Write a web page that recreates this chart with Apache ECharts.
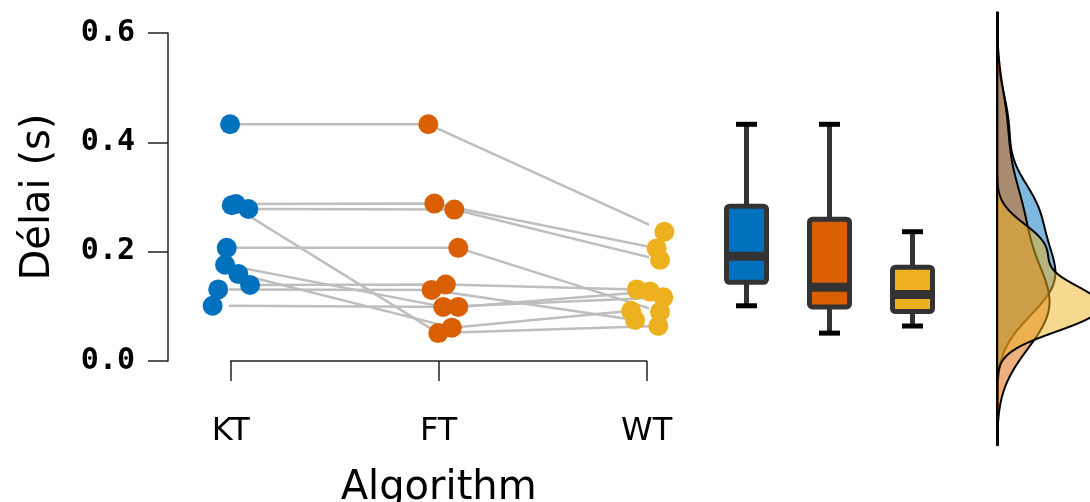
<!DOCTYPE html>
<html><head><meta charset="utf-8">
<script src="https://cdn.jsdelivr.net/npm/echarts@6/dist/echarts.min.js"></script>
<style>html,body{margin:0;padding:0;background:#fff}#c{width:1090px;height:502px}</style>
</head><body><div id="c"></div>
<script>
// ---------------- data ----------------
const categories = ['KT', 'FT', 'WT'];
const yTickLabels = ['0.0', '0.2', '0.4', '0.6'];
// paired values per subject (same index = same subject)
const ktValues = [0.433, 0.287, 0.278, 0.285, 0.207, 0.176, 0.159, 0.139, 0.131, 0.101];
const ftValues = [0.433, 0.288, 0.277, 0.051, 0.207, 0.099, 0.061, 0.140, 0.130, 0.099];
const wtValues = [0.2365, 0.206, 0.185, 0.064, 0.090, 0.1165, 0.092, 0.131, 0.075, 0.127];
// horizontal jitter of each point, in category units
const ktJitter = [-0.003, 0.025, 0.085, 0.005, -0.019, -0.027, 0.037, 0.093, -0.060, -0.087];
const ftJitter = [-0.050, -0.021, 0.075, -0.002, 0.094, 0.022, 0.063, 0.034, -0.034, 0.094];
const wtJitter = [0.085, 0.048, 0.064, 0.056, 0.064, 0.080, -0.075, -0.048, -0.056, 0.016];

// ---------------- style / layout ----------------
const colors = ['#0072BD', '#D95F02', '#EDB120'];
const lineGrey = '#BEBEBE';
const axisColor = '#222';
const plotTop = 33, plotBottom = 361;           // pixel span of 0 .. 0.6
const yMin = 0, yMax = 0.6;
const pxPerUnit = (plotBottom - plotTop) / (yMax - yMin);
const pxPerDensity = 15.6;
const densLeft = 997, densWidth = 220;

const groups = [ktValues, ftValues, wtValues];
const jitters = [ktJitter, ftJitter, wtJitter];

// ---------------- statistics ----------------
function quantile(sorted, p) {
  const h = (sorted.length - 1) * p, lo = Math.floor(h);
  const hi = Math.min(lo + 1, sorted.length - 1);
  return sorted[lo] + (h - lo) * (sorted[hi] - sorted[lo]);
}
function boxStats(vals) {
  const s = vals.slice().sort((a, b) => a - b);
  return [s[0], quantile(s, 0.25), quantile(s, 0.5), quantile(s, 0.75), s[s.length - 1]];
}
function bwNrd0(vals) {
  const n = vals.length;
  const mean = vals.reduce((a, b) => a + b, 0) / n;
  const sd = Math.sqrt(vals.reduce((a, b) => a + (b - mean) * (b - mean), 0) / (n - 1));
  const s = vals.slice().sort((a, b) => a - b);
  const iqr = quantile(s, 0.75) - quantile(s, 0.25);
  const lo = Math.min(sd, iqr / 1.34) || sd || 1;
  return 0.9 * lo * Math.pow(n, -0.2);
}
function kde(vals) {
  const bw = bwNrd0(vals);
  const lo = Math.min(...vals) - 3 * bw, hi = Math.max(...vals) + 3 * bw;
  const N = 512, pts = [];
  const norm = 1 / (vals.length * bw * Math.sqrt(2 * Math.PI));
  for (let i = 0; i < N; i++) {
    const y = lo + (hi - lo) * i / (N - 1);
    let d = 0;
    for (const v of vals) { const z = (y - v) / bw; d += Math.exp(-0.5 * z * z); }
    pts.push([d * norm, y]);
  }
  return { lo, hi, pts };
}
const densities = groups.map(kde);
const dLo = Math.min(...densities.map(d => d.lo));
const dHi = Math.max(...densities.map(d => d.hi));
const densTop = plotBottom - (dHi - yMin) * pxPerUnit;
const densHeight = (dHi - dLo) * pxPerUnit;

// ---------------- series ----------------
const series = [];
// paired lines
for (let i = 0; i < ktValues.length; i++) {
  series.push({
    type: 'line', xAxisIndex: 0, yAxisIndex: 0, silent: true, clip: false,
    symbol: 'none', z: 1, animation: false,
    lineStyle: { color: lineGrey, width: 2.5 },
    data: groups.map((g, k) => [k + 1 + jitters[k][i], g[i]])
  });
}
// points
groups.forEach((g, k) => {
  series.push({
    type: 'scatter', xAxisIndex: 0, yAxisIndex: 0, clip: false, z: 3,
    symbolSize: 20, itemStyle: { color: colors[k], opacity: 1 },
    data: g.map((v, i) => [k + 1 + jitters[k][i], v])
  });
});
// boxplots
series.push({
  type: 'custom', xAxisIndex: 1, yAxisIndex: 1, z: 3, clip: false,
  data: groups.map((g, k) => [k].concat(boxStats(g))),
  encode: { x: 0, y: [1, 2, 3, 4, 5] },
  renderItem(params, api) {
    const k = api.value(0);
    const pMin = api.coord([k, api.value(1)]);
    const pQ1 = api.coord([k, api.value(2)]);
    const pMed = api.coord([k, api.value(3)]);
    const pQ3 = api.coord([k, api.value(4)]);
    const pMax = api.coord([k, api.value(5)]);
    const cx = pMin[0], hw = 20, cap = 10.5;
    return {
      type: 'group', children: [
        { type: 'line', shape: { x1: cx, y1: pMax[1], x2: cx, y2: pQ3[1] }, style: { stroke: '#333', lineWidth: 5 } },
        { type: 'line', shape: { x1: cx, y1: pQ1[1], x2: cx, y2: pMin[1] }, style: { stroke: '#333', lineWidth: 5 } },
        { type: 'line', shape: { x1: cx - cap, y1: pMax[1], x2: cx + cap, y2: pMax[1] }, style: { stroke: '#000', lineWidth: 5 } },
        { type: 'line', shape: { x1: cx - cap, y1: pMin[1], x2: cx + cap, y2: pMin[1] }, style: { stroke: '#000', lineWidth: 5 } },
        { type: 'rect', shape: { x: cx - hw, y: pQ3[1], width: 2 * hw, height: pQ1[1] - pQ3[1], r: 3 },
          style: { fill: colors[k], stroke: '#333', lineWidth: 5 } },
        { type: 'line', shape: { x1: cx - hw, y1: pMed[1], x2: cx + hw, y2: pMed[1] }, style: { stroke: '#333', lineWidth: 9 } }
      ]
    };
  }
});
// densities
densities.forEach((d, k) => {
  series.push({
    type: 'custom', xAxisIndex: 2, yAxisIndex: 2, clip: false, z: 2 + k,
    data: d.pts,
    encode: { x: 0, y: 1 },
    renderItem(params, api) {
      if (params.dataIndex !== 0) return null;
      const poly = [api.coord([0, d.lo])];
      d.pts.forEach(p => poly.push(api.coord(p)));
      poly.push(api.coord([0, d.hi]));
      return {
        type: 'polygon', shape: { points: poly, smooth: 0 },
        style: { fill: colors[k], opacity: 1, fillOpacity: 0.5, stroke: '#000', lineWidth: 2, strokeOpacity: 1 }
      };
    }
  });
});

const option = {
  animation: false,
  backgroundColor: '#fff',
  grid: [
    { left: 230.7, width: 416, top: plotTop, height: plotBottom - plotTop, outerBoundsMode: 'none', containLabel: false },
    { left: 705, width: 249, top: plotTop, height: plotBottom - plotTop, outerBoundsMode: 'none', containLabel: false },
    { left: densLeft, width: densWidth, top: densTop, height: densHeight, outerBoundsMode: 'none', containLabel: false }
  ],
  xAxis: [
    {
      gridIndex: 0, type: 'value', min: 1, max: 3, interval: 1, offset: 20,
      axisLine: { show: true, lineStyle: { color: axisColor, width: 1.5 } },
      axisTick: { show: true, length: 20, lineStyle: { color: axisColor, width: 1.5 } },
      splitLine: { show: false },
      axisLabel: {
        margin: 35, color: '#000', fontSize: 32, fontFamily: 'DejaVu Sans',
        formatter: v => categories[Math.round(v) - 1] || ''
      },
      name: 'Algorithm', nameLocation: 'middle', nameGap: 88,
      nameTextStyle: { color: '#000', fontSize: 40, fontFamily: 'DejaVu Sans' }
    },
    { gridIndex: 1, type: 'category', data: categories, show: false },
    { gridIndex: 2, type: 'value', min: 0, max: densWidth / pxPerDensity, show: false }
  ],
  yAxis: [
    {
      gridIndex: 0, type: 'value', min: yMin, max: yMax, interval: 0.2, offset: 62.7,
      axisLine: { show: true, lineStyle: { color: axisColor, width: 1.5 } },
      axisTick: { show: true, length: 20, lineStyle: { color: axisColor, width: 1.5 } },
      splitLine: { show: false },
      axisLabel: {
        margin: 33, color: '#000', fontSize: 30, fontWeight: 'bold', fontFamily: 'DejaVu Sans Mono',
        formatter: v => yTickLabels[Math.round(v / 0.2)]
      },
      name: 'Délai (s)', nameLocation: 'middle', nameGap: 109,
      nameTextStyle: { color: '#000', fontSize: 40, fontFamily: 'DejaVu Sans' }
    },
    { gridIndex: 1, type: 'value', min: yMin, max: yMax, show: false },
    {
      gridIndex: 2, type: 'value', min: dLo, max: dHi,
      axisLine: { show: true, onZero: false, lineStyle: { color: '#000', width: 3 } },
      axisTick: { show: false }, axisLabel: { show: false }, splitLine: { show: false }
    }
  ],
  series
};
const chart = echarts.init(document.getElementById('c'), null, { renderer: 'canvas' });
chart.setOption(option);
</script>
</body></html>
